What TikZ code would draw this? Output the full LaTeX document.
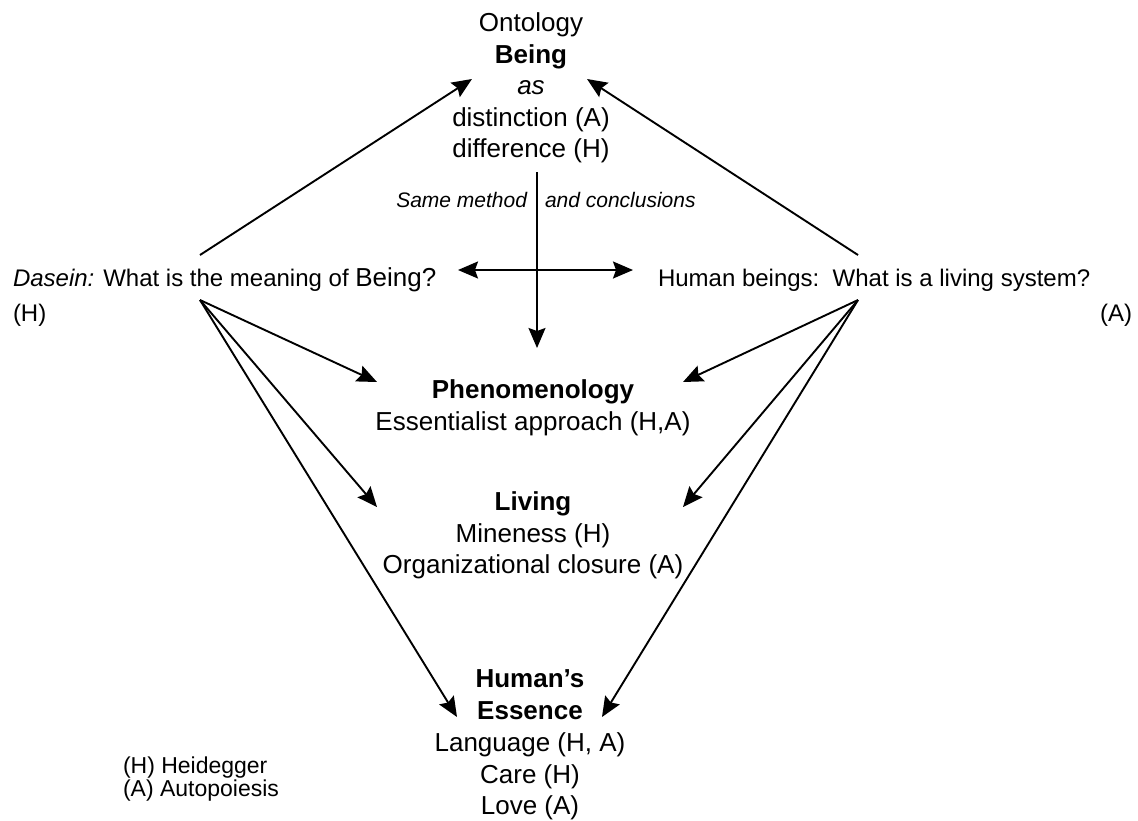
\documentclass[tikz,border=0pt]{standalone}
\usepackage{fontspec}
\setmainfont{Liberation Sans}
\usetikzlibrary{arrows.meta}
\begin{document}
\begin{tikzpicture}[x=1pt,y=-1pt,
  txt/.style={inner sep=0pt,outer sep=0pt,align=center},
  big/.style={font=\fontsize{26}{31.5}\selectfont},
  mid/.style={font=\fontsize{24}{29}\selectfont},
  note/.style={font=\fontsize{21}{24}\selectfont\itshape},
  legend/.style={font=\fontsize{23}{23}\selectfont,align=left},
  arr/.style={line width=1.9pt,-{Stealth[length=20pt,width=17pt,inset=3pt]}},
  plain/.style={line width=1.9pt}]
\useasboundingbox (0,0) rectangle (1138,820);

% central blocks
\node[txt,big,anchor=north] (being) at (531,13)
  {Ontology\\\textbf{Being}\\\textit{as}\\distinction (A)\\difference (H)};
\node[txt,big,anchor=north,font=\fontsize{26}{32}\selectfont] (phen) at (533,380)
  {\textbf{Phenomenology}\\Essentialist approach (H,A)};
\node[txt,big,anchor=north] (living) at (533,492)
  {\textbf{Living}\\Mineness (H)\\Organizational closure (A)};
\node[txt,big,anchor=north,font=\fontsize{26}{31.75}\selectfont] (essence) at (530,670)
  {\textbf{Human’s}\\\textbf{Essence}\\Language (H, A)\\Care (H)\\Love (A)};

% the two questions
\node[txt,mid,anchor=base west] (dasein) at (13,286)
  {\textit{Dasein:} What is the meaning of {\fontsize{26}{29}\selectfont Being?}};
\node[txt,mid,anchor=base west] (dH) at (13,321) {(H)};
\node[txt,mid,anchor=base west] (human) at (658,286)
  {Human beings:\ \ What is a living system?};
\node[txt,mid,anchor=base east] (hA) at (1132,321) {(A)};

% labels beside the vertical arrow
\node[txt,note,anchor=base east] (same) at (527,207) {Same method};
\node[txt,note,anchor=base west] (concl) at (545,207) {and conclusions};

% legend (base anchor sits on the last line)
\node[txt,legend,anchor=base west] (leg) at (123,796)
  {(H) Heidegger\\(A) Autopoiesis};

% connector end points
\coordinate (dUp) at (200,255);
\coordinate (dDown) at (200,300);
\coordinate (hUp) at (858,255);
\coordinate (hDown) at (858,300);
\coordinate (beingL) at (472,79);
\coordinate (beingR) at (587,79);
\coordinate (vTop) at (537,172);
\coordinate (vBot) at (537,348);
\coordinate (cross) at (537,270);
\coordinate (crossL) at (458,270);
\coordinate (crossR) at (633,270);
\coordinate (phenL) at (377,382);
\coordinate (phenR) at (683,382);
\coordinate (livL) at (377,507);
\coordinate (livR) at (683,507);
\coordinate (essL) at (457,717);
\coordinate (essR) at (602,717);

% arrows up to Being
\draw[arr] (dUp) -- (beingL);
\draw[arr] (hUp) -- (beingR);

% cross in the middle
\draw[arr] (vTop) -- (vBot);
\draw[arr] (cross) -- (crossL);
\draw[arr] (cross) -- (crossR);

% fans from the two questions
\draw[arr] (dDown) -- (phenL);
\draw[arr] (dDown) -- (livL);
\draw[arr] (dDown) -- (essL);
\draw[arr] (hDown) -- (phenR);
\draw[arr] (hDown) -- (livR);
\draw[arr] (hDown) -- (essR);
\end{tikzpicture}
\end{document}
